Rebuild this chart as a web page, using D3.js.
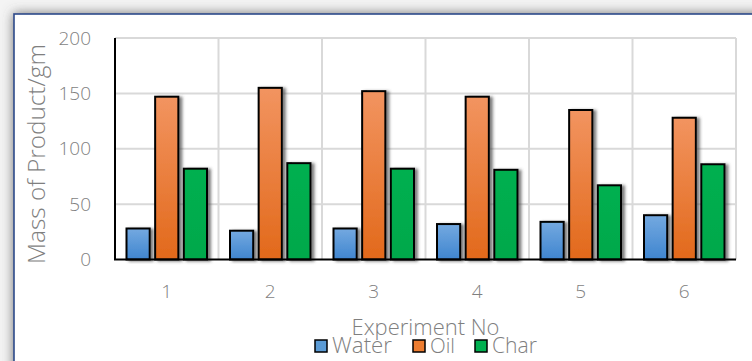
<!DOCTYPE html>
<html><head><meta charset="utf-8">
<script src="https://cdn.jsdelivr.net/npm/d3@7"></script>
<style>
html,body{margin:0;padding:0;background:#fff;overflow:hidden;}
text{font-family:"Open Sans","Lato",sans-serif;font-weight:300;fill:#7f7f7f;}
</style></head>
<body>
<svg id="c" width="752" height="361"></svg>
<script>
const categories = ["1","2","3","4","5","6"];
const seriesNames = ["Water","Oil","Char"];
const water = [28,26,28,32,34,40];
const oil = [147,155,152,147,135,128];
const char = [82,87,82,81,67,86];
const yTicks = [0,50,100,150,200];
const xTitle = "Experiment No";
const yTitle = "Mass of Product/gm";

(function(){
const values = [water, oil, char];
const svg = d3.select("#c");
const defs = svg.append("defs");

const fs = defs.append("filter").attr("id","frameShadow").attr("x","-10%").attr("y","-10%").attr("width","120%").attr("height","120%");
fs.append("feDropShadow").attr("dx",0).attr("dy",0).attr("stdDeviation",6).attr("flood-color","#555").attr("flood-opacity",0.8);
const bs = defs.append("filter").attr("id","barShadow").attr("x","-30%").attr("y","-10%").attr("width","170%").attr("height","120%");
bs.append("feDropShadow").attr("dx",3).attr("dy",1).attr("stdDeviation",1.5).attr("flood-color","#444").attr("flood-opacity",0.7);

const grads = [
  {id:"gW", top:"#74a9e0", bot:"#3f85cf"},
  {id:"gO", top:"#f29460", bot:"#e2691b"},
  {id:"gC", top:"#00b050", bot:"#00a84b"}
];
grads.forEach(g=>{
  const lg = defs.append("linearGradient").attr("id",g.id).attr("x1",0).attr("y1",0).attr("x2",0).attr("y2",1);
  lg.append("stop").attr("offset","0%").attr("stop-color",g.top);
  lg.append("stop").attr("offset","100%").attr("stop-color",g.bot);
});
const fills = ["url(#gW)","url(#gO)","url(#gC)"];
const legendFills = ["#5b9bd5","#ed7d31","#00b050"];

svg.append("rect").attr("x",0).attr("y",0).attr("width",752).attr("height",361).attr("fill","#f4f4f4");
svg.append("rect").attr("x",14).attr("y",14).attr("width",760).attr("height",360)
  .attr("fill","#fff").attr("stroke","#2e4a8a").attr("stroke-width",1.6).attr("filter","url(#frameShadow)");

const pL=115, pR=736, pT=38, pB=259.5;
const x = d3.scaleBand().domain(categories).range([pL,pR]).paddingInner(0).paddingOuter(0);
const y = d3.scaleLinear().domain([0,200]).range([pB,pT]);
const xs = d3.scaleBand().domain(seriesNames).range([11.5, x.bandwidth()-11.5]).paddingInner(0.19);

const gH = svg.append("g");
yTicks.filter(t=>t>0).forEach(t=>{
  gH.append("line").attr("x1",pL).attr("x2",pR).attr("y1",y(t)).attr("y2",y(t)).attr("stroke","#d9d9d9").attr("stroke-width",2);
});
categories.forEach(c=>{
  const xx = x(c)+x.bandwidth();
  gH.append("line").attr("x1",xx).attr("x2",xx).attr("y1",pT).attr("y2",pB).attr("stroke","#d9d9d9").attr("stroke-width",2);
});

seriesNames.forEach((s,si)=>{
  svg.append("g").attr("filter","url(#barShadow)").selectAll("rect").data(values[si]).join("rect")
    .attr("x",(d,i)=>x(categories[i])+xs(s))
    .attr("y",d=>y(d))
    .attr("width",xs.bandwidth())
    .attr("height",d=>pB-y(d))
    .attr("fill",fills[si]).attr("stroke","#000").attr("stroke-width",2);
});

svg.append("line").attr("x1",pL).attr("x2",pL).attr("y1",pT).attr("y2",pB).attr("stroke","#000").attr("stroke-width",2);
svg.append("line").attr("x1",pL-1).attr("x2",pR).attr("y1",pB).attr("y2",pB).attr("stroke","#000").attr("stroke-width",2);

function fit(sel, target){
  const n = sel.node();
  const w = n.getComputedTextLength();
  const f = parseFloat(sel.attr("font-size"));
  if (w>0) sel.attr("font-size", f*target/w);
}

const yAx = svg.append("g").attr("transform",`translate(${pL},0)`)
  .call(d3.axisLeft(y).tickValues(yTicks).tickSize(0).tickPadding(24));
yAx.select(".domain").remove();
yAx.selectAll("text").attr("font-size",19).style("font-family","'Open Sans', Lato, sans-serif").style("font-weight",300).attr("fill","#7f7f7f");

const xAx = svg.append("g").attr("transform",`translate(0,${pB})`)
  .call(d3.axisBottom(x).tickSize(0).tickPadding(25));
xAx.select(".domain").remove();
xAx.selectAll("text").attr("font-size",19).style("font-family","'Open Sans', Lato, sans-serif").style("font-weight",300).attr("fill","#7f7f7f");

const xt = svg.append("text").attr("x",(pL+pR)/2).attr("y",335).attr("text-anchor","middle").attr("font-size",20).text(xTitle);
fit(xt,148);
const yt = svg.append("text").attr("transform",`translate(45,${(43+265)/2}) rotate(-90)`).attr("text-anchor","middle").attr("font-size",22).text(yTitle);
fit(yt,220);

const legX = [315, 413, 475];
const legW = [60, 25, 45];
seriesNames.forEach((s,i)=>{
  svg.append("rect").attr("x",legX[i]).attr("y",340).attr("width",12).attr("height",12)
    .attr("fill",legendFills[i]).attr("stroke","#000").attr("stroke-width",1.5);
  const t = svg.append("text").attr("x",legX[i]+17).attr("y",353).attr("font-size",20).text(s);
  fit(t, legW[i]);
});
})();
</script>
</body></html>
